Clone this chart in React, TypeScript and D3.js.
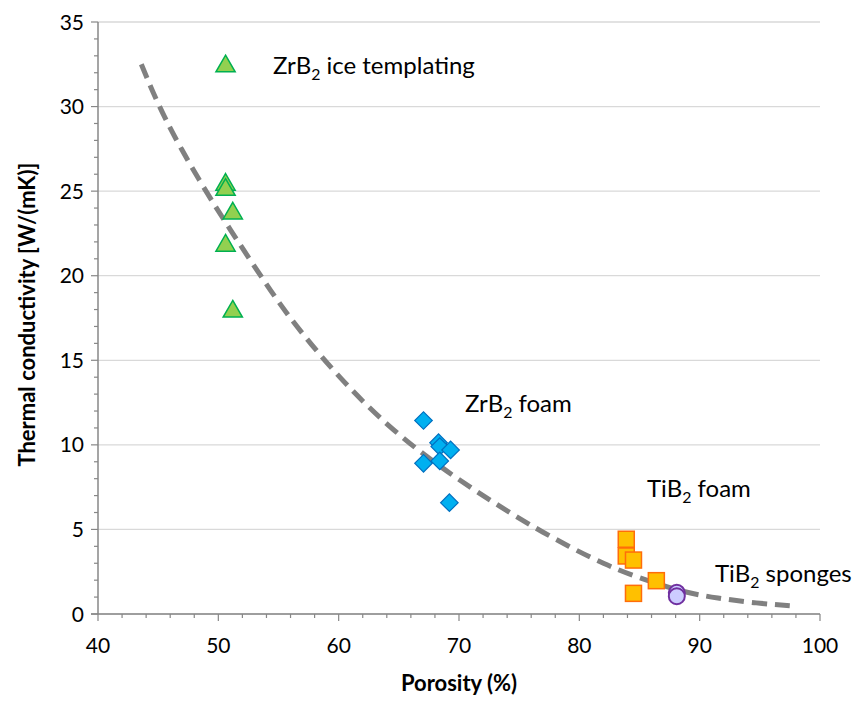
import * as d3 from 'd3'
import type { ReactElement } from 'react'

// porosity (%) / thermal conductivity W/(mK)
const iceTemplatingPorosity = [50.6, 50.6, 51.2, 50.6, 51.2]
const iceTemplatingK = [25.5, 25.2, 23.8, 21.9, 18.0]

const zrFoamPorosity = [67.05, 68.3, 68.4, 69.3, 67.05, 68.4, 69.2]
const zrFoamK = [11.44, 10.13, 9.9, 9.7, 8.91, 9.05, 6.58]

const tiFoamPorosity = [83.9, 83.9, 84.5, 86.4, 84.5]
const tiFoamK = [4.42, 3.43, 3.19, 1.97, 1.22]

const tiSpongePorosity = [88.1, 88.1]
const tiSpongeK = [1.25, 1.05]

// dashed trend line, traced point by point
const trendPorosity = [43.6, 45.4, 48.5, 51.0, 53.7, 56.0, 60.1, 64.3, 68.4, 72.6, 76.7, 82.3, 86.4, 89.0, 91.4, 94.5, 97.8]
const trendK = [32.5, 29.4, 25.5, 22.7, 19.8, 17.4, 13.9, 10.95, 8.7, 6.7, 4.9, 2.8, 1.8, 1.24, 0.95, 0.65, 0.47]

const xTicks = [40, 50, 60, 70, 80, 90, 100]
const yTicks = [0, 5, 10, 15, 20, 25, 30, 35]

// label marker that sits next to the "ice templating" text
const iceLabelPoint = { porosity: 50.6, k: 32.5 }

const font = "Lato, 'Open Sans', sans-serif"
const axisColor = '#878787'

type Pt = { x: number; y: number }

const zip = (xs: number[], ys: number[]): Pt[] => xs.map((x, i) => ({ x, y: ys[i]! }))

function Sub({ base, rest, x, y, size }: { base: string; rest: string; x: number; y: number; size: number }): ReactElement {
  return (
    <text x={x} y={y} fontFamily={font} fontSize={size} fill="#000">
      {base}
      <tspan fontSize={size * 0.66} dy={size * 0.26}>2</tspan>
      <tspan dy={-size * 0.26}>{rest}</tspan>
    </text>
  )
}

export default function App(): ReactElement {
  const width = 855
  const height = 702
  const x = d3.scaleLinear().domain([40, 100]).range([98, 820])
  const y = d3.scaleLinear().domain([0, 35]).range([614, 22])

  const trend = d3
    .line<Pt>()
    .x((d) => x(d.x))
    .y((d) => y(d.y))
    .curve(d3.curveBasis)(zip(trendPorosity, trendK))

  const tri = d3.symbol().type(d3.symbolTriangle).size(160)()
  const minorX = d3.range(40, 100.1, 2)
  const minorY = d3.range(0, 35.1, 1)

  return (
    <svg width={width} height={height} style={{ position: 'absolute', left: 0, top: 0, background: '#fff' }}>
      {/* horizontal gridlines */}
      {yTicks.map((t) => (
        <line key={`g${t}`} x1={x(40)} x2={x(100)} y1={y(t)} y2={y(t)} stroke="#d9d9d9" strokeWidth={1.3} />
      ))}

      {/* axes */}
      <line x1={x(40)} x2={x(40)} y1={y(0)} y2={y(35)} stroke={axisColor} strokeWidth={1.5} />
      <line x1={x(40) - 7} x2={x(100)} y1={y(0)} y2={y(0)} stroke={axisColor} strokeWidth={1.5} />
      {minorY.map((t) => (
        <line key={`my${t}`} x1={x(40) - (t % 5 === 0 ? 7 : 4)} x2={x(40)} y1={y(t)} y2={y(t)} stroke={axisColor} strokeWidth={1.2} />
      ))}
      {minorX.map((t) => (
        <line key={`mx${t}`} x1={x(t)} x2={x(t)} y1={y(0)} y2={y(0) + (t % 10 === 0 ? 7 : 4)} stroke={axisColor} strokeWidth={1.2} />
      ))}
      {yTicks.map((t) => (
        <text key={`yl${t}`} x={84} y={y(t)} dy="0.36em" textAnchor="end" fontFamily={font} fontSize={21} fill="#000">
          {t}
        </text>
      ))}
      {xTicks.map((t) => (
        <text key={`xl${t}`} x={x(t)} y={653} textAnchor="middle" fontFamily={font} fontSize={21} fill="#000">
          {t}
        </text>
      ))}

      <text x={x(70)} y={691} textAnchor="middle" fontFamily={font} fontSize={22} fontWeight="bold" fill="#000">
        Porosity (%)
      </text>
      <text
        transform={`translate(35,${y(17.7)}) rotate(-90)`}
        textAnchor="middle"
        fontFamily={font}
        fontSize={22}
        fontWeight="bold"
        fill="#000"
      >
        Thermal conductivity [W/(mK)]
      </text>

      {/* trend */}
      <path d={trend ?? ''} fill="none" stroke="#808080" strokeWidth={5} strokeDasharray="15,8" />

      {/* ZrB2 ice templating */}
      {zip(iceTemplatingPorosity, iceTemplatingK).map((d, i) => (
        <path key={`t${i}`} d={tri ?? ''} transform={`translate(${x(d.x)},${y(d.y) + 2})`} fill="#92d050" stroke="#00b050" strokeWidth={1.5} />
      ))}
      <path
        d={tri ?? ''}
        transform={`translate(${x(iceLabelPoint.porosity)},${y(iceLabelPoint.k) + 2})`}
        fill="#92d050"
        stroke="#00b050"
        strokeWidth={1.5}
      />

      {/* ZrB2 foam */}
      {zip(zrFoamPorosity, zrFoamK).map((d, i) => (
        <rect
          key={`d${i}`}
          x={-6.2}
          y={-6.2}
          width={12.4}
          height={12.4}
          transform={`translate(${x(d.x)},${y(d.y)}) rotate(45)`}
          fill="#00b0f0"
          stroke="#0070c0"
          strokeWidth={1.2}
        />
      ))}

      {/* TiB2 foam */}
      {zip(tiFoamPorosity, tiFoamK).map((d, i) => (
        <rect
          key={`s${i}`}
          x={x(d.x) - 8}
          y={y(d.y) - 8}
          width={16}
          height={16}
          fill="#ffc000"
          stroke="#ff6d0a"
          strokeWidth={1.5}
        />
      ))}

      {/* TiB2 sponges */}
      {zip(tiSpongePorosity, tiSpongeK).map((d, i) => (
        <circle key={`c${i}`} cx={x(d.x)} cy={y(d.y)} r={8} fill="#ccccff" stroke="#7030a0" strokeWidth={2} />
      ))}

      {/* annotations */}
      <Sub base="ZrB" rest=" ice templating" x={273} y={74} size={24} />
      <Sub base="ZrB" rest=" foam" x={465} y={412} size={24} />
      <Sub base="TiB" rest=" foam" x={647} y={497} size={24} />
      <Sub base="TiB" rest=" sponges" x={715} y={582} size={24} />
    </svg>
  )
}
